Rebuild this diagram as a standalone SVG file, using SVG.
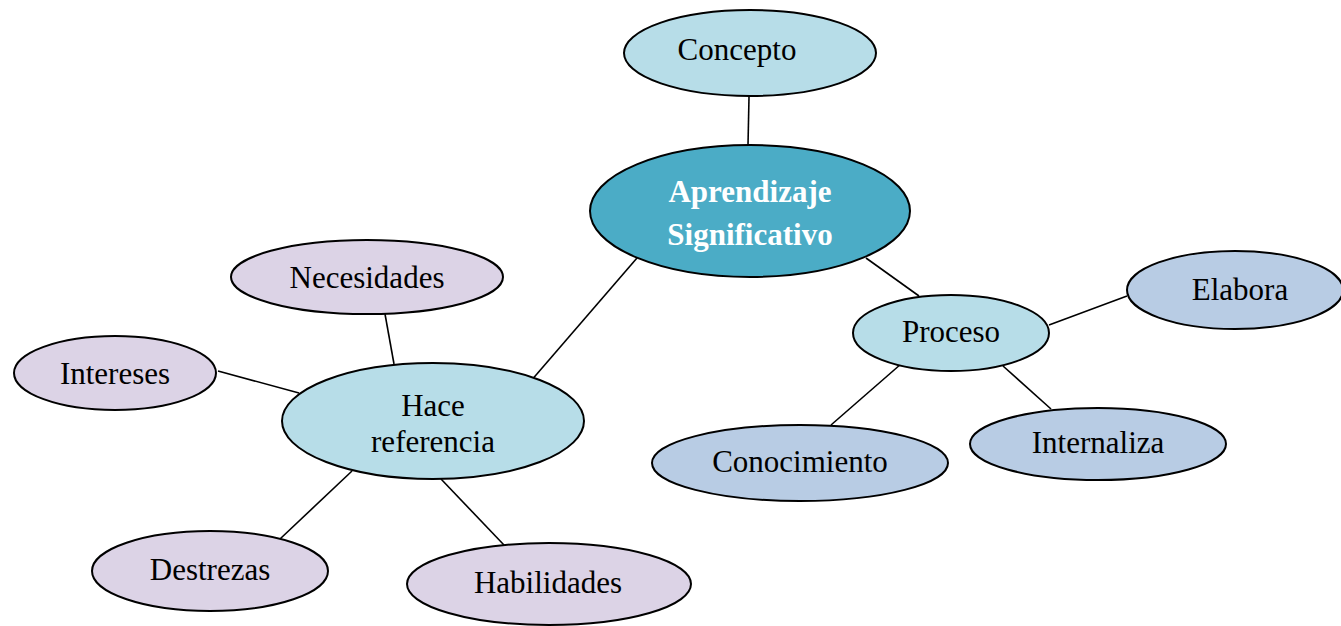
<svg xmlns="http://www.w3.org/2000/svg" width="1341" height="626" viewBox="0 0 1341 626">
<style>
.n{stroke:#000;stroke-width:2}
.lb{fill:#b7dde8}
.dk{fill:#4bacc6}
.lv{fill:#dcd3e6}
.bg{fill:#b8cce4}
text{font-family:"Liberation Serif","Times New Roman",serif;font-size:31px;fill:#000;text-anchor:middle}
.w{fill:#fff;font-weight:bold}
#c line{stroke:#000;stroke-width:1.6}
</style>
<rect width="1341" height="626" fill="#fff"/>
<g id="c">
<line x1="749" y1="97" x2="748" y2="145"/>
<line x1="637" y1="258" x2="530" y2="382"/>
<line x1="866" y1="258" x2="919" y2="296"/>
<line x1="385" y1="314" x2="394" y2="364"/>
<line x1="218" y1="371" x2="299" y2="393"/>
<line x1="352" y1="471" x2="280" y2="539"/>
<line x1="441" y1="479" x2="504" y2="545"/>
<line x1="1049" y1="325" x2="1127" y2="296"/>
<line x1="901" y1="364" x2="831" y2="425"/>
<line x1="1003" y1="366" x2="1051" y2="409"/>
</g>
<g id="concepto"><ellipse class="n lb" cx="750" cy="53" rx="126" ry="43"/><text x="737" y="60">Concepto</text></g>
<g id="aprendizaje"><ellipse class="n dk" cx="750" cy="211" rx="160" ry="66"/><text class="w" x="750" y="202">Aprendizaje</text><text class="w" x="750" y="245">Significativo</text></g>
<g id="necesidades"><ellipse class="n lv" cx="367" cy="277" rx="136" ry="37"/><text x="367" y="288">Necesidades</text></g>
<g id="intereses"><ellipse class="n lv" cx="115" cy="373" rx="101" ry="37"/><text x="115" y="384">Intereses</text></g>
<g id="hace"><ellipse class="n lb" cx="433" cy="421" rx="151" ry="58"/><text x="433" y="416">Hace</text><text x="433" y="452">referencia</text></g>
<g id="destrezas"><ellipse class="n lv" cx="210" cy="571" rx="118" ry="40"/><text x="210" y="580">Destrezas</text></g>
<g id="habilidades"><ellipse class="n lv" cx="549" cy="584" rx="142" ry="41"/><text x="548" y="593">Habilidades</text></g>
<g id="proceso"><ellipse class="n lb" cx="951" cy="333" rx="98" ry="38"/><text x="951" y="342">Proceso</text></g>
<g id="elabora"><ellipse class="n bg" cx="1235" cy="290" rx="108" ry="39"/><text x="1240" y="300">Elabora</text></g>
<g id="conocimiento"><ellipse class="n bg" cx="800" cy="463" rx="148" ry="38"/><text x="800" y="472">Conocimiento</text></g>
<g id="internaliza"><ellipse class="n bg" cx="1098" cy="444" rx="128" ry="36"/><text x="1098" y="453">Internaliza</text></g>
</svg>
